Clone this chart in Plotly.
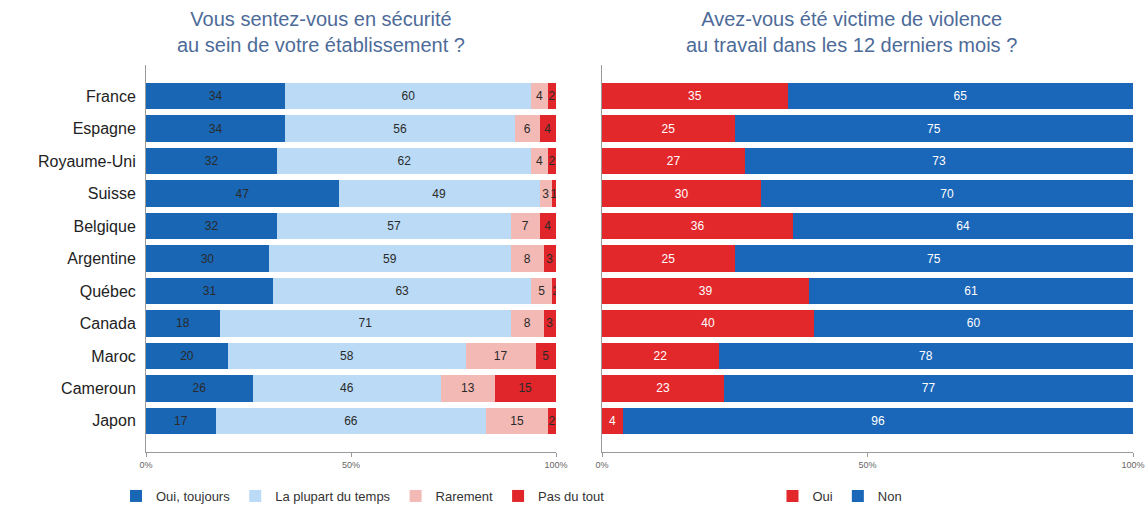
import plotly.graph_objects as go

countries = ["France", "Espagne", "Royaume-Uni", "Suisse", "Belgique", "Argentine",
             "Québec", "Canada", "Maroc", "Cameroun", "Japon"]

# Left chart: feeling of safety
oui_toujours = [34, 34, 32, 47, 32, 30, 31, 18, 20, 26, 17]
plupart = [60, 56, 62, 49, 57, 59, 63, 71, 58, 46, 66]
rarement = [4, 6, 4, 3, 7, 8, 5, 8, 17, 13, 15]
pas_du_tout = [2, 4, 2, 1, 4, 3, 2, 3, 5, 15, 2]

# Right chart: victim of violence
oui = [35, 25, 27, 30, 36, 25, 39, 40, 22, 23, 4]
non = [65, 75, 73, 70, 64, 75, 61, 60, 78, 77, 96]

tick_values = [0, 50, 100]
tick_labels = ["0%", "50%", "100%"]

left_series = [
    ("Oui, toujours", oui_toujours, "#1866b4"),
    ("La plupart du temps", plupart, "#badaf6"),
    ("Rarement", rarement, "#f3b9b5"),
    ("Pas du tout", pas_du_tout, "#e0262b"),
]
right_series = [
    ("Oui", oui, "#e3282c"),
    ("Non", non, "#1a66b8"),
]

fig = go.Figure()
for name, vals, col in left_series:
    fig.add_trace(go.Bar(
        y=countries, x=vals, name=name, orientation="h",
        marker=dict(color=col, line=dict(width=0)),
        text=[str(v) for v in vals], textposition="inside", insidetextanchor="middle",
        textfont=dict(color="#2a2a2a", size=12, family="Liberation Sans, Arial"),
        xaxis="x", yaxis="y", legend="legend", hoverinfo="x+y+name",
    ))
for name, vals, col in right_series:
    fig.add_trace(go.Bar(
        y=countries, x=vals, name=name, orientation="h",
        marker=dict(color=col, line=dict(width=0)),
        text=[str(v) for v in vals], textposition="inside", insidetextanchor="middle",
        textfont=dict(color="#ffffff", size=12, family="Liberation Sans, Arial"),
        xaxis="x2", yaxis="y2", legend="legend2", hoverinfo="x+y+name",
    ))

W, H = 1148, 510
ytop = 1 - 65 / H
ybot = 1 - 452 / H

axis_common = dict(showline=True, linecolor="#9a9a9a", linewidth=1, showgrid=False,
                   zeroline=False, automargin=False)
xcommon = dict(axis_common, range=[0, 100], tickmode="array", tickvals=tick_values,
               ticktext=tick_labels,
               ticks="outside", ticklen=4, tickcolor="#9a9a9a",
               tickfont=dict(size=9, color="#666666", family="Liberation Sans, Arial"))
ycommon = dict(axis_common, range=[10.96, -0.96], ticks="",
               categoryorder="array", categoryarray=countries)

fig.update_layout(
    width=W, height=H,
    template="none",
    paper_bgcolor="white", plot_bgcolor="white",
    margin=dict(l=0, r=0, t=0, b=0, autoexpand=False),
    barmode="stack", bargap=0.18,
    uniformtext=dict(minsize=12, mode="show"),
    font=dict(family="Liberation Sans, Arial", color="#222"),
    xaxis=dict(xcommon, domain=[146 / W, 556 / W], anchor="y"),
    yaxis=dict(ycommon, domain=[ybot, ytop], anchor="x",
               tickfont=dict(size=16, color="#222222", family="Liberation Sans, Arial"),
               ticklabelstandoff=6),
    xaxis2=dict(xcommon, domain=[602 / W, 1133 / W], anchor="y2"),
    yaxis2=dict(ycommon, domain=[ybot, ytop], anchor="x2", showticklabels=False),
    legend=dict(orientation="h", x=363 / W, xanchor="center", y=1 - 496 / H, yanchor="middle",
                font=dict(size=13, color="#333"), itemwidth=30, traceorder="normal",
                bgcolor="rgba(0,0,0,0)"),
    legend2=dict(orientation="h", x=840 / W, xanchor="center", y=1 - 496 / H, yanchor="middle",
                 font=dict(size=13, color="#333"), itemwidth=30, traceorder="normal",
                 bgcolor="rgba(0,0,0,0)"),
    annotations=[
        dict(text="Vous sentez-vous en sécurité<br>au sein de votre établissement ?",
             x=321 / W, y=1 - 32 / H, xref="paper", yref="paper", showarrow=False,
             font=dict(size=20, color="#4d6b99", family="Liberation Sans, Arial"),
             xanchor="center", yanchor="middle", align="center"),
        dict(text="Avez-vous été victime de violence<br>au travail dans les 12 derniers mois ?",
             x=851 / W, y=1 - 32 / H, xref="paper", yref="paper", showarrow=False,
             font=dict(size=20, color="#4d6b99", family="Liberation Sans, Arial"),
             xanchor="center", yanchor="middle", align="center"),
    ],
)

fig.write_html("out.html", config={"displayModeBar": False},
               post_script="document.body.style.margin='0';document.body.style.overflow='hidden';")
